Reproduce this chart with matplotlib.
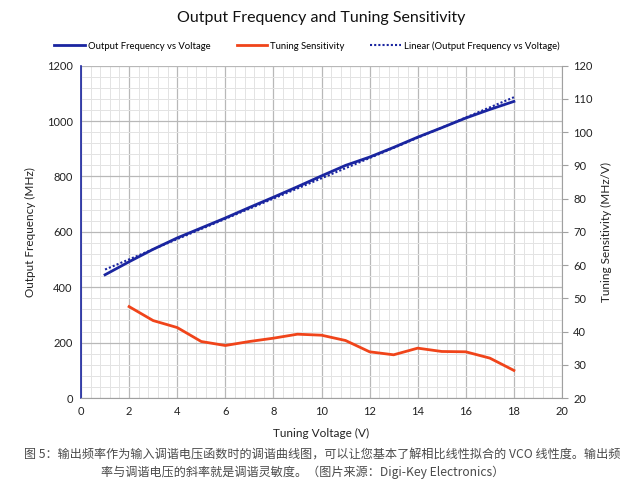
import matplotlib
matplotlib.use("Agg")
import matplotlib.pyplot as plt
import numpy as np
from matplotlib.ticker import MultipleLocator

voltage = [1, 2, 3, 4, 5, 6, 7, 8, 9, 10, 11, 12, 13, 14, 15, 16, 17, 18]
freq = [445, 492, 537, 578, 614, 650, 688, 725, 763, 802, 840, 870, 905, 942, 976, 1011, 1042, 1071]
sens_voltage = [2, 3, 4, 5, 6, 7, 8, 9, 10, 11, 12, 13, 14, 15, 16, 17, 18]
sens = [47.5, 43.3, 41.2, 37.0, 35.8, 37.0, 38.0, 39.2, 38.9, 37.3, 33.9, 33.0, 35.0, 34.0, 33.9, 32.0, 28.3]

title = "Output Frequency and Tuning Sensitivity"
caption1 = "图 5：输出频率作为输入调谐电压函数时的调谐曲线图，可以让您基本了解相比线性拟合的 VCO 线性度。输出频"
caption2 = "率与调谐电压的斜率就是调谐灵敏度。（图片来源：Digi-Key Electronics）"

BLUE = "#1a25a0"
RED = "#f0441a"
GRID_MAJ = "#b8b8b8"
GRID_MIN = "#e3e3e3"

plt.rcParams['font.family'] = ['Lato', 'DejaVu Sans']

fig = plt.figure(figsize=(6.43, 4.86), dpi=100)
ax = fig.add_axes([81/643, 1-398/486, (562-81)/643, (398-65.7)/486])
ax2 = ax.twinx()

# trendline (least squares of the plotted data)
coef = np.polyfit(voltage, freq, 1)
xs = np.array([voltage[0], voltage[-1]])

l1, = ax.plot(voltage, freq, color=BLUE, lw=2.0, label="Output Frequency vs Voltage", zorder=3)
l3, = ax.plot(xs, np.polyval(coef, xs), color=BLUE, lw=1.5, ls=(0, (1, 1)), label="Linear (Output Frequency vs Voltage)", zorder=3)
l2, = ax2.plot(sens_voltage, sens, color=RED, lw=2.0, label="Tuning Sensitivity", zorder=3)

ax.set_xlim(0, 20)
ax.set_ylim(0, 1200)
ax2.set_ylim(20, 120)
ax.xaxis.set_major_locator(MultipleLocator(2))
ax.xaxis.set_minor_locator(MultipleLocator(0.4))
ax.yaxis.set_major_locator(MultipleLocator(200))
ax.yaxis.set_minor_locator(MultipleLocator(40))
ax2.yaxis.set_major_locator(MultipleLocator(10))
ax2.yaxis.set_minor_locator(plt.NullLocator())

ax.grid(which='major', color=GRID_MAJ, lw=0.9, zorder=0)
ax.grid(which='minor', color=GRID_MIN, lw=0.7, zorder=0)
ax.set_axisbelow(True)

for a in (ax, ax2):
    for s in a.spines.values():
        s.set_visible(False)
ax.spines['left'].set_visible(True)
ax.spines['left'].set_color(BLUE)
ax.spines['left'].set_linewidth(1.2)
ax.spines['bottom'].set_visible(True)
ax.spines['bottom'].set_color("#a0a0a0")
ax2.spines['right'].set_visible(True)
ax2.spines['right'].set_color("#a0a0a0")

ax.tick_params(axis='both', which='both', length=0, labelsize=8, colors="#222222", pad=6)
ax2.tick_params(axis='y', which='major', length=4, color="#a0a0a0", labelsize=8, labelcolor="#222222", pad=4)

ax.set_xlabel("Tuning Voltage (V)", fontsize=8.5, color="#222222", labelpad=8)
ax.set_ylabel("Output Frequency (MHz)", fontsize=8.5, color="#222222", labelpad=8)
ax2.set_ylabel("Tuning Sensitivity (MHz/V)", fontsize=8.5, color="#222222", labelpad=6)

fig.text(0.5, 1-18/486, title, ha='center', va='center', fontsize=11.5, color="#111111")

fig.legend(handles=[l1, l2, l3], loc='center', bbox_to_anchor=(307/643, 1-46/486), ncol=3,
           frameon=False, fontsize=6.8, handlelength=3.2, handletextpad=0.35, columnspacing=2.75)

cap_font = ['Noto Sans CJK SC', 'DejaVu Sans']
fig.text(322/643, 1-455/486, caption1, ha='center', va='center', fontsize=8.7, color="#4a4a4a",
         family=cap_font, style='italic')
fig.text(303/643, 1-472/486, caption2, ha='center', va='center', fontsize=8.7, color="#4a4a4a",
         family=cap_font, style='italic')

fig.savefig("out.png", dpi=100)
